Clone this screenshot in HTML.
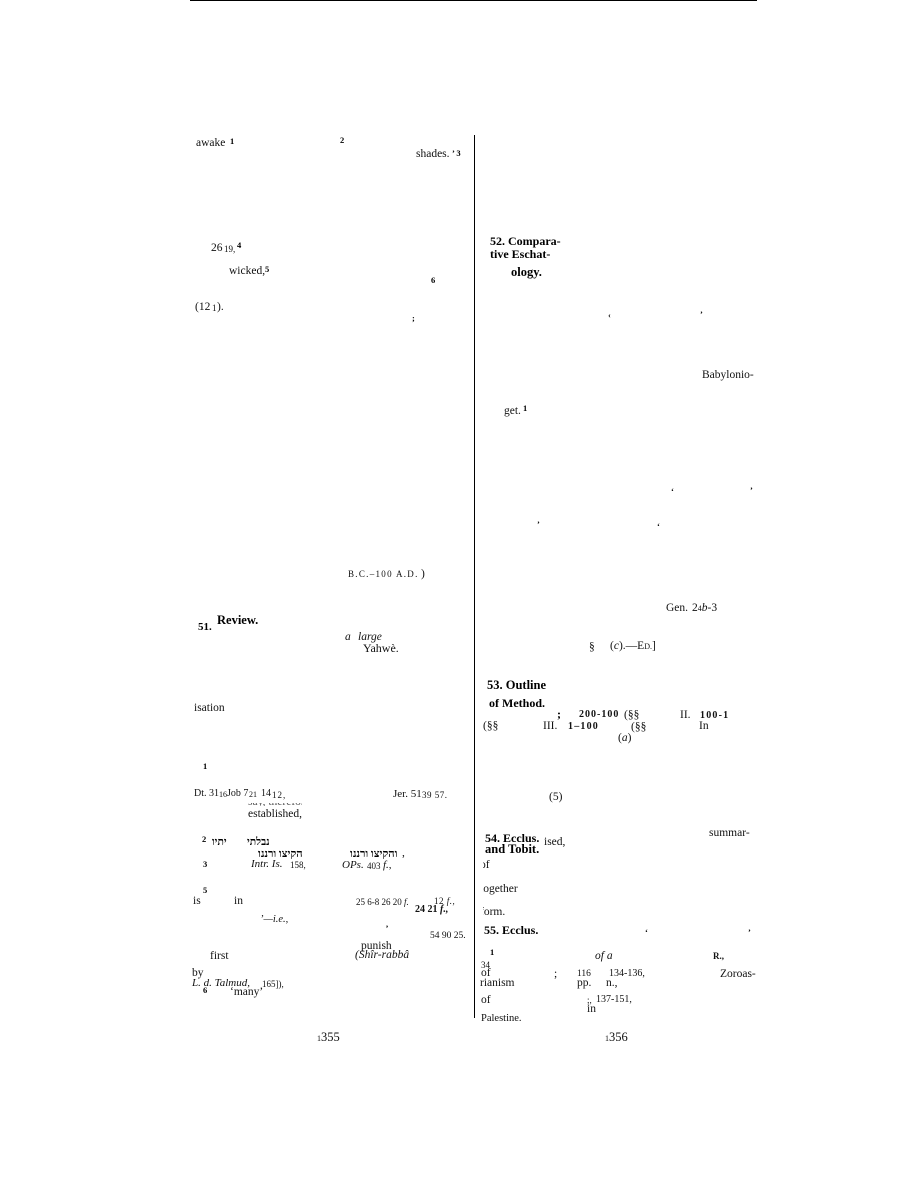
<!DOCTYPE html>
<html><head><meta charset="utf-8"><style>
html,body{margin:0;padding:0;background:#fff}
#p{position:relative;width:918px;height:1188px;overflow:hidden;background:#fff;font-family:"Liberation Serif",serif;font-size:11.5px;color:#111}
#p span{position:absolute;line-height:12px;white-space:nowrap;margin-top:1px}
#p span span{margin-top:0}
.b{font-weight:bold;color:#000;font-size:12px}
.s{font-size:9px}
.m{font-size:8.5px;font-weight:bold;color:#000}
.i{font-style:italic}
.h{font-family:"Noto Serif CJK SC","DejaVu Serif",serif;font-size:10.5px;font-weight:bold;direction:rtl;unicode-bidi:bidi-override;color:#000}
</style></head><body><div id="p">
<div style="position:absolute;left:190px;top:0;width:567px;height:1px;background:#000"></div>
<div style="position:absolute;left:474px;top:135px;width:1px;height:883px;background:#000"></div>

<span style="left:196px;top:136px">awake</span><span class="m" style="left:230px;top:134px">1</span>
<span class="m" style="left:340px;top:133px">2</span>
<span style="left:416px;top:147px">shades.</span><span class="m" style="left:452px;top:146px">’ 3</span>
<span style="left:211px;top:241px">26</span><span class="s" style="left:224px;top:242px">19,</span><span class="m" style="left:237px;top:238px">4</span>
<span style="left:229px;top:264px">wicked,</span><span class="m" style="left:265px;top:262px">5</span>
<span class="m" style="left:431px;top:273px">6</span>
<span style="left:195px;top:300px">(12</span><span class="s" style="left:212px;top:301px">1</span><span style="left:217px;top:300px">).</span>
<span class="m" style="left:412px;top:311px">;</span>
<span class="s" style="left:348px;top:567px;letter-spacing:1.3px">B.C.–100 A.D.</span><span style="left:421px;top:567px">)</span>
<span class="b" style="left:217px;top:613px;font-size:12.5px">Review.</span><span class="b" style="left:198px;top:620px;font-size:11px">51.</span>
<span class="i" style="left:345px;top:630px">a</span><span class="i" style="left:358px;top:630px">large</span>
<span style="left:363px;top:641px;font-size:12px">Yahwè.</span>
<span style="left:194px;top:701px">isation</span>
<span class="m" style="left:203px;top:759px">1</span>
<span style="left:194px;top:787px;font-size:10px">Dt. 31</span><span class="s" style="left:219px;top:788px;font-size:8px">16</span><span style="left:227px;top:787px;font-size:10px">Job 7</span><span class="s" style="left:249px;top:788px;font-size:8px">21</span><span style="left:261px;top:787px;font-size:10px">14</span><span class="s" style="left:272px;top:788px;letter-spacing:1px">12,</span>
<span style="left:393px;top:787px;font-size:11px">Jer. 51</span><span class="s" style="left:422px;top:788px;letter-spacing:.5px">39 57.</span>
<div style="position:absolute;left:248px;top:803px;width:54px;height:3px;overflow:hidden"><span style="left:0;top:-7px;margin:0;color:#555;font-size:11.5px">say, therefor</span></div>
<span style="left:248px;top:807px">established,</span>
<span class="m" style="left:202px;top:832px">2</span>
<span class="h" style="left:212px;top:835px">יתיו</span>
<span class="h" style="left:247px;top:835px">נבלתי</span>
<span class="h" style="left:258px;top:846px;font-size:11px">הקיצו ורננו</span>
<span class="h" style="left:350px;top:846px;font-size:11px">והקיצו ורננו</span><span style="left:402px;top:846px">,</span>
<span class="m" style="left:203px;top:857px">3</span>
<span class="i" style="left:251px;top:857px;font-size:11px">Intr. Is.</span><span class="s" style="left:290px;top:858px">158,</span>
<span class="i" style="left:342px;top:858px;font-size:11px">OPs.</span><span class="s" style="left:367px;top:859px">403</span><span class="i" style="left:383px;top:858px;font-size:11px">f.,</span>
<span class="m" style="left:203px;top:883px">5</span>
<span style="left:193px;top:894px">is</span><span style="left:234px;top:894px">in</span>
<span class="s" style="left:356px;top:895px">25 6-8 26 20 <i>f.</i></span>
<span class="s" style="left:434px;top:894px;letter-spacing:.5px">12 <i>f.,</i></span>
<span class="s" style="left:415px;top:903px;font-size:10px;font-weight:bold">24 21 <i>f.,</i></span>
<span class="i" style="left:260px;top:913px;font-size:10.5px">’—i.e.,</span>
<span class="m" style="left:386px;top:917px">,</span>
<span class="s" style="left:430px;top:929px;font-size:9.5px">54 90 25.</span>
<span style="left:210px;top:949px">first</span>
<span style="left:361px;top:939px">punish</span>
<span class="i" style="left:355px;top:948px">(Shîr-rabbâ</span>
<span style="left:192px;top:966px">by</span>
<span class="i" style="left:192px;top:976px;font-size:11px">L. d. Talmud,</span><span class="s" style="left:262px;top:977px">165]),</span>
<span class="m" style="left:203px;top:983px">6</span>
<span style="left:230px;top:985px">‘many’</span>
<span style="left:317px;top:1030px;font-size:12.5px"><span style="position:static;font-size:8px">1</span>355</span>

<span class="b" style="left:490px;top:234px">52. Compara-</span>
<span class="b" style="left:490px;top:247px">tive Eschat-</span>
<span class="b" style="left:511px;top:265px;font-size:12.5px">ology.</span>
<span class="m" style="left:608px;top:308px">‹</span><span class="m" style="left:700px;top:307px">’</span>
<span style="left:702px;top:368px">Babylonio-</span>
<span style="left:504px;top:404px">get.</span><span class="m" style="left:523px;top:401px">1</span>
<span class="m" style="left:671px;top:484px">‘</span><span class="m" style="left:750px;top:483px">’</span>
<span class="m" style="left:537px;top:517px">’</span><span class="m" style="left:657px;top:519px">‘</span>
<span style="left:666px;top:601px">Gen.</span><span style="left:692px;top:601px">2<span style="position:static;font-size:8px">4</span><i>b</i>-3</span>
<span style="left:589px;top:640px">§</span><span style="left:610px;top:639px">(<i>c</i>).—E<span style="position:static;font-size:8px">D.</span>]</span>
<span class="b" style="left:487px;top:678px;font-size:12.5px">53. Outline</span>
<span class="b" style="left:489px;top:696px">of Method.</span>
<span class="b" style="left:557px;top:707px">;</span>
<span class="s" style="left:579px;top:708px;font-weight:bold;font-size:10px;letter-spacing:1px">200-100</span><span style="left:624px;top:708px">(§§</span>
<span style="left:680px;top:708px">II.</span><span class="s" style="left:700px;top:709px;font-weight:bold;font-size:10px;letter-spacing:1.2px">100-1</span>
<span style="left:483px;top:719px">(§§</span><span style="left:543px;top:719px">III.</span><span class="s" style="left:568px;top:720px;font-weight:bold;font-size:10px;letter-spacing:1.2px">1–100</span><span style="left:631px;top:720px">(§§</span><span style="left:699px;top:719px">In</span>
<span style="left:618px;top:731px">(<i>a</i>)</span>
<span style="left:549px;top:790px">(5)</span>
<span style="left:709px;top:826px">summar-</span>
<span class="b" style="left:485px;top:831px">54. Ecclus.</span><span style="left:544px;top:835px">ised,</span>
<span class="b" style="left:485px;top:842px;font-size:12.5px">and Tobit.</span>
<span style="left:480px;top:858px">of</span>
<span style="left:480px;top:882px">together</span>
<span style="left:480px;top:905px">form.</span>
<span class="b" style="left:484px;top:923px">55. Ecclus.</span>
<span class="m" style="left:645px;top:925px">‘</span><span class="m" style="left:748px;top:925px">’</span>
<span class="m" style="left:490px;top:945px">1</span>
<span class="i" style="left:595px;top:949px">of a</span><span class="s" style="left:713px;top:949px;font-weight:bold">R.,</span>
<span class="s" style="left:481px;top:958px;font-size:9px">34</span>
<span style="left:481px;top:966px">of</span><span style="left:554px;top:967px">;</span><span class="s" style="left:577px;top:967px;font-size:9.5px">116</span><span class="s" style="left:609px;top:967px;font-size:10px">134-136,</span><span style="left:720px;top:967px">Zoroas-</span>
<span style="left:480px;top:976px">rianism</span><span style="left:577px;top:976px">pp.</span><span style="left:606px;top:976px">n.,</span>
<span style="left:481px;top:993px">of</span><span class="s" style="left:587px;top:993px">;,</span><span class="s" style="left:596px;top:993px;font-size:10px">137-151,</span>
<span style="left:587px;top:1002px">in</span>
<span style="left:481px;top:1012px;font-size:10.5px">Palestine.</span>
<span style="left:605px;top:1030px;font-size:12.5px"><span style="position:static;font-size:8px">1</span>356</span>
<div style="position:absolute;left:476px;top:855px;width:7px;height:65px;background:#fff"></div>
</div></body></html>
